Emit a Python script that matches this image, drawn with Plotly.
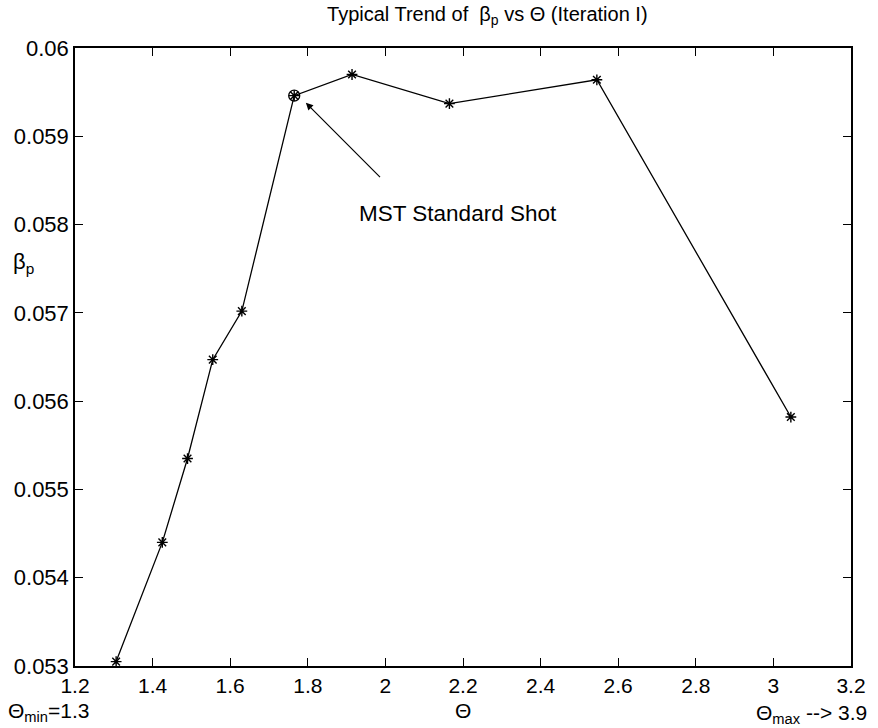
import plotly.graph_objects as go

theta = [1.306, 1.425, 1.49, 1.555, 1.63, 1.765, 1.914, 2.165, 2.545, 3.045]
beta_p = [0.05305, 0.0544, 0.05535, 0.05647, 0.05702, 0.05946, 0.0597, 0.05937, 0.05964, 0.05582]
std_idx = 5
xticks = [1.2, 1.4, 1.6, 1.8, 2.0, 2.2, 2.4, 2.6, 2.8, 3.0, 3.2]
xticklabels = ["1.2", "1.4", "1.6", "1.8", "2", "2.2", "2.4", "2.6", "2.8", "3", "3.2"]
yticks = [0.053, 0.054, 0.055, 0.056, 0.057, 0.058, 0.059, 0.060]
yticklabels = ["0.053", "0.054", "0.055", "0.056", "0.057", "0.058", "0.059", "0.06"]

FONT = "Liberation Sans, Arial, Helvetica, sans-serif"

fig = go.Figure()
fig.add_trace(go.Scatter(
    x=theta, y=beta_p, mode="lines+markers",
    line=dict(color="black", width=1.3),
    marker=dict(symbol="asterisk-open", size=9, color="black", line=dict(width=1.4, color="black")),
    showlegend=False, hoverinfo="skip"))
fig.add_trace(go.Scatter(
    x=[theta[std_idx]], y=[beta_p[std_idx]], mode="markers",
    marker=dict(symbol="circle-open", size=11, color="black", line=dict(width=1.3, color="black")),
    showlegend=False, hoverinfo="skip"))

fig.update_layout(
    width=878, height=728,
    margin=dict(l=75, r=23, t=48, b=62),
    paper_bgcolor="white", plot_bgcolor="white",
    font=dict(family=FONT, color="black", size=22),
    title=dict(text="Typical Trend of  β<sub>p</sub> vs Θ (Iteration I)", x=0.555, xanchor="center",
               y=0.99, yanchor="top", font=dict(size=20, family=FONT)),
    xaxis=dict(range=[1.2, 3.2], tickvals=xticks, ticktext=xticklabels,
               ticks="inside", ticklen=8, tickcolor="black", tickwidth=1,
               showline=True, linecolor="black", linewidth=1.5, mirror="ticks",
               showgrid=False, zeroline=False, tickfont=dict(size=21)),
    yaxis=dict(range=[0.053, 0.060], tickvals=yticks, ticktext=yticklabels,
               ticks="inside", ticklen=8, tickcolor="black", tickwidth=1,
               showline=True, linecolor="black", linewidth=1.5, mirror="ticks",
               showgrid=False, zeroline=False, tickfont=dict(size=22)),
)

# arrow to the standard shot (head at the circled point)
fig.add_annotation(x=1.795, y=0.05938, ax=1.99, ay=0.05852, xref="x", yref="y", axref="x", ayref="y",
                   showarrow=True, arrowhead=2, arrowsize=1.2, arrowwidth=1.2, arrowcolor="black", text="")
fig.add_annotation(x=1.928, y=0.05812, xref="x", yref="y", text="MST Standard Shot", showarrow=False,
                   xanchor="left", yanchor="middle", font=dict(size=22.5, family=FONT))
fig.add_annotation(x=-0.083, y=0.652, xref="paper", yref="paper", text="β<sub>p</sub>", showarrow=False,
                   xanchor="left", yanchor="middle", font=dict(size=22, family=FONT))
fig.add_annotation(x=0.5, y=-0.052, xref="paper", yref="paper", xanchor="center", yanchor="top",
                   text="Θ", showarrow=False, font=dict(size=21, family=FONT), borderpad=0)
fig.add_annotation(x=-0.088, y=-0.052, xref="paper", yref="paper", xanchor="left", yanchor="top",
                   text="Θ<sub>min</sub>=1.3", showarrow=False, font=dict(size=21, family=FONT), borderpad=0)
fig.add_annotation(x=1.022, y=-0.055, xref="paper", yref="paper", xanchor="right", yanchor="top",
                   text="Θ<sub>max</sub> --> 3.9", showarrow=False, font=dict(size=21, family=FONT), borderpad=0)

fig.write_html("out.html")
